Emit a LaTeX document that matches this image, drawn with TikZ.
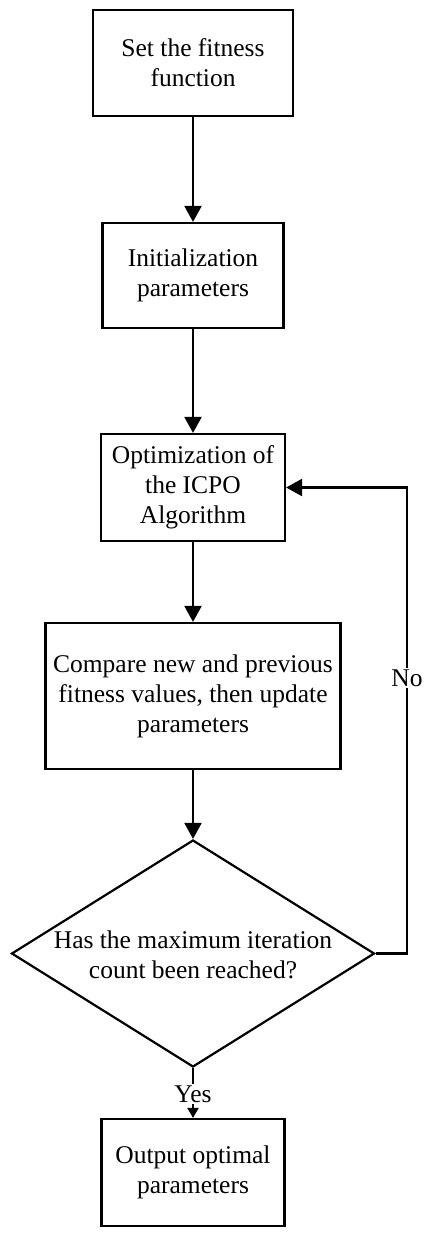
\documentclass[tikz,border=0pt]{standalone}
\usepackage{fontspec}
\setmainfont{Liberation Serif}
\usetikzlibrary{arrows.meta,shapes.geometric}
\begin{document}
\begin{tikzpicture}[x=0.5pt,y=-0.5pt,
  font=\fontsize{12.75pt}{15pt}\selectfont,
  box/.style={draw,line width=1.1pt,align=center,inner sep=0pt},
  conn/.style={line width=1.1pt,-{Triangle[length=8pt,width=8.5pt]}},
  smallconn/.style={line width=1.1pt,-{Triangle[length=5pt,width=5.5pt]}},
  lbl/.style={fill=white,inner sep=1pt}]
\useasboundingbox (0,0) rectangle (431,1236);
\node[box,minimum width=100pt,minimum height=53pt] (b1) at (193,63) {Set the fitness\\function};
\node[box,minimum width=90.5pt,minimum height=52.5pt] (b2) at (193,275.5) {Initialization\\parameters};
\node[box,minimum width=92pt,minimum height=53.5pt] (b3) at (193,487.5) {Optimization of\\the ICPO\\Algorithm};
\node[box,minimum width=147.5pt,minimum height=73pt] (b4) at (193,696) {Compare new and previous\\fitness values, then update\\parameters};
\node[draw,line width=1.1pt,diamond,inner sep=0pt,minimum width=181.5pt,minimum height=113.5pt] (d) at (193,953.5) {};
\node[align=center] (dt) at (193,954.5) {Has the maximum iteration\\count been reached?};
\node[box,minimum width=91.5pt,minimum height=53.5pt] (b5) at (193,1172.5) {Output optimal\\parameters};
\coordinate (fb) at (407,953.5);
\draw[conn] (b1.south) -- (b2.north);
\draw[conn] (b2.south) -- (b3.north);
\draw[conn] (b3.south) -- (b4.north);
\draw[conn] (b4.south) -- (d.north);
\draw[conn] (d.east) -- (fb) |- (b3.east);
\draw[smallconn] (d.south) -- (b5.north);
\node[lbl] (no) at (407,678) {No};
\node[lbl] (yes) at (193,1094) {Yes};
\end{tikzpicture}
\end{document}
